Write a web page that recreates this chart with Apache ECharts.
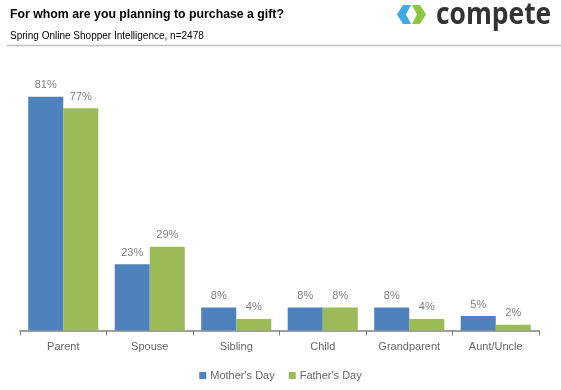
<!DOCTYPE html>
<html><head><meta charset="utf-8">
<script src="https://cdn.jsdelivr.net/npm/echarts@6/dist/echarts.min.js"></script>
<style>html,body{margin:0;padding:0;background:#fff}#c{width:561px;height:390px}</style>
</head><body><div id="c"></div>
<script>
var categories = ['Parent','Spouse','Sibling','Child','Grandparent','Aunt/Uncle'];
var mothersDay = [81,23,8,8,8,5];
var fathersDay = [77,29,4,8,4,2];
var seriesNames = ["Mother's Day","Father's Day"];
var titleText = 'For whom are you planning to purchase a gift?';
var subtitleText = 'Spring Online Shopper Intelligence, n=2478';

var FF = 'Arial, "Liberation Sans", sans-serif';
var chart = echarts.init(document.getElementById('c'), null, {renderer:'canvas'});
var lbl = {show:true, position:'top', distance:6, formatter:'{c}%', color:'#7f7f7f', fontFamily:FF, fontSize:11};
chart.setOption({
  animation:false,
  textStyle:{fontFamily:FF},
  title:[
    {text:titleText, left:10, top:8.5, padding:0, textStyle:{fontSize:12.3, fontWeight:'bold', color:'#000', fontFamily:FF}},
    {text:subtitleText, left:10, top:31.5, padding:0, textStyle:{fontSize:10, fontWeight:'normal', color:'#000', fontFamily:FF}}
  ],
  graphic:[
    {type:'line', shape:{x1:7,y1:45.5,x2:561,y2:45.5}, style:{stroke:'#c0c0c0', lineWidth:1.5}},
    {type:'polygon', shape:{points:[[411,5],[403,5],[397,14.5],[403,24],[411,24],[406,14.5]]}, style:{fill:'#3fa9e0'}},
    {type:'polygon', shape:{points:[[412,5],[420,5],[426,14.5],[420,24],[412,24],[417,14.5]]}, style:{fill:'#8cc63f'}},
    {type:'text', x:436, y:0, scaleX:0.88, style:{text:'compete', fill:'#333', font:'bold 30px "Open Sans", Arial, sans-serif'}}
  ],
  legend:{bottom:4, left:'center', itemWidth:7, itemHeight:7, itemGap:14, icon:'rect',
    textStyle:{color:'#666', fontSize:11, padding:[0,0,0,-1]}, data:seriesNames},
  grid:{left:20, right:22, top:42, bottom:59.5, containLabel:false},
  xAxis:{type:'category', data:categories,
    axisLine:{lineStyle:{color:'#808080', width:1.5}},
    axisTick:{show:true, length:5, inside:false, lineStyle:{color:'#808080'}},
    axisLabel:{color:'#666', fontSize:11, margin:11, interval:0}},
  yAxis:{type:'value', min:0, max:100, show:false, splitLine:{show:false}},
  series:[
    {name:seriesNames[0], type:'bar', data:mothersDay, itemStyle:{color:'#4f81bd'}, barGap:'0%', barCategoryGap:'19%', label:lbl},
    {name:seriesNames[1], type:'bar', data:fathersDay, itemStyle:{color:'#9bbb59'}, barGap:'0%', barCategoryGap:'19%', label:lbl}
  ]
});
</script></body></html>
